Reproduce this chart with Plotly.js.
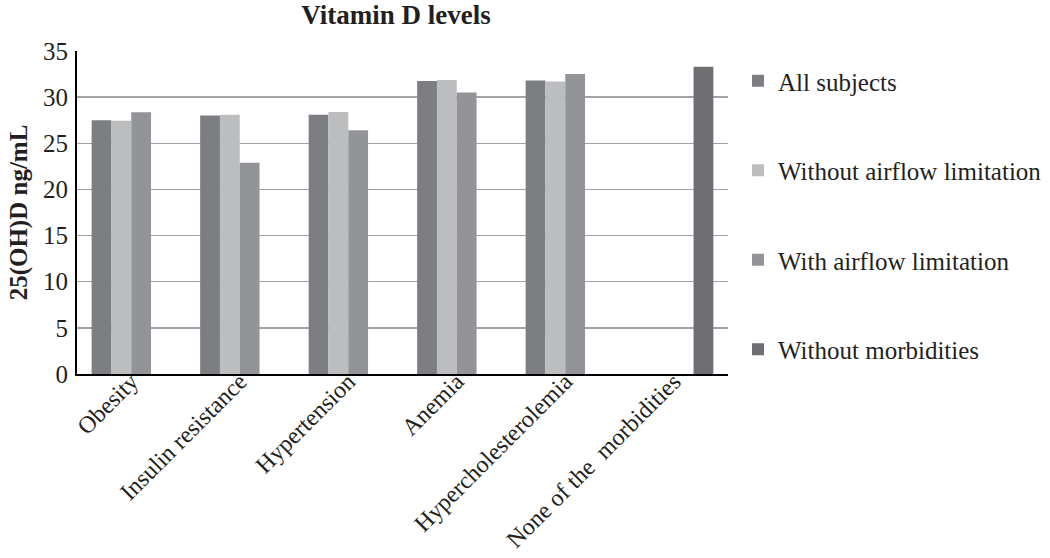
<!DOCTYPE html>
<html>
<head>
<meta charset="utf-8">
<script src="https://cdn.plot.ly/plotly-3.0.1.min.js"></script>
<style>html,body{margin:0;padding:0;background:#fff;}#chart{width:1050px;height:558px;}</style>
</head>
<body>
<div id="chart"></div>
<script>
const categories = ["Obesity", "Insulin resistance", "Hypertension", "Anemia", "Hypercholesterolemia", "None of the\u00a0 morbidities"];
const allSubjects = [27.5, 28.0, 28.1, 31.75, 31.8, null];
const withoutAirflow = [27.45, 28.1, 28.4, 31.85, 31.7, null];
const withAirflow = [28.35, 22.9, 26.4, 30.5, 32.5, null];
const withoutMorbidities = [null, null, null, null, null, 33.3];
const seriesNames = ["All subjects", "Without airflow limitation", "With airflow limitation", "Without morbidities"];
const seriesColors = ["#7d7e82", "#bcbdbf", "#939497", "#6e6f72"];
const yTicks = [0, 5, 10, 15, 20, 25, 30, 35];

const seriesValues = [allSubjects, withoutAirflow, withAirflow, withoutMorbidities];
const traces = seriesValues.map((vals, i) => ({
  type: "bar",
  x: categories,
  y: vals,
  name: seriesNames[i],
  legendgroup: "g" + i,
  marker: {color: seriesColors[i], line: {width: 0}},
  hoverinfo: "skip"
}));

const serif = "Liberation Serif, Times New Roman, serif";
const layout = {
  width: 1050, height: 558,
  margin: {l: 77, r: 322, t: 51, b: 184, autoexpand: false},
  paper_bgcolor: "#fff", plot_bgcolor: "#fff",
  barmode: "group", bargap: 0.27, bargroupgap: 0,
  font: {family: serif, size: 25, color: "#231f20"},
  title: {text: "<b>Vitamin D levels</b>", font: {family: serif, size: 27, color: "#231f20"},
          xref: "container", x: 396/1050, xanchor: "center", yref: "container", y: 1 - 15/558, yanchor: "middle"},
  xaxis: {
    type: "category", tickangle: -45, showgrid: false, ticks: "",
    showline: true, linecolor: "#000", linewidth: 2,
    tickfont: {family: serif, size: 24, color: "#231f20"}, ticklabelstandoff: -18,
    automargin: false
  },
  yaxis: {
    range: [0, 35], tickvals: yTicks, ticktext: yTicks.map(String), ticks: "",
    showgrid: true, gridcolor: "#a3a3a3", gridwidth: 1.5,
    showline: true, linecolor: "#000", linewidth: 2, zeroline: false,
    tickfont: {family: serif, size: 25, color: "#231f20"}, ticklabelstandoff: 2,
    title: {text: "<b>25(OH)D ng/mL</b>", font: {family: serif, size: 25, color: "#231f20"}, standoff: 8},
    automargin: false
  },
  legend: {
    xref: "container", yref: "container",
    x: 738/1050, xanchor: "left", y: 1 - 58/558, yanchor: "top",
    traceorder: "grouped", tracegroupgap: 54, maxheight: 500,
    font: {family: serif, size: 25, color: "#231f20"},
    itemwidth: 30, bgcolor: "rgba(0,0,0,0)"
  },
  showlegend: true
};

Plotly.newPlot("chart", traces, layout, {displayModeBar: false, staticPlot: true});
</script>
</body>
</html>
